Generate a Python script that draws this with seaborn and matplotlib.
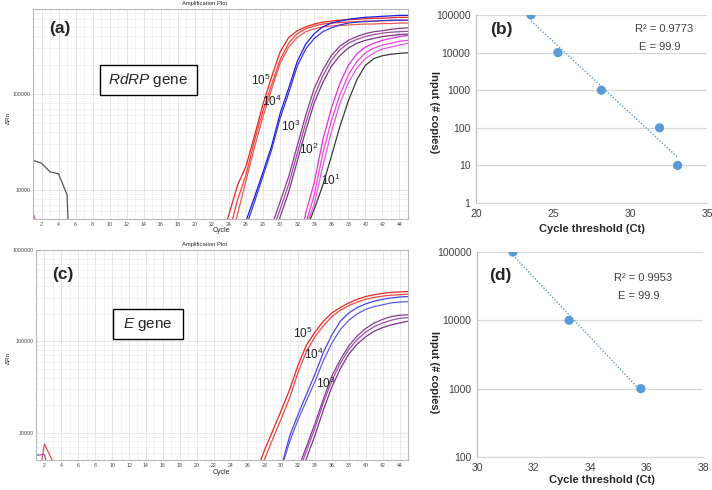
import numpy as np
import pandas as pd
import matplotlib
matplotlib.use("Agg")
import matplotlib.pyplot as plt
import seaborn as sns
from matplotlib.patches import Rectangle
from matplotlib.ticker import LogLocator, NullFormatter, NullLocator

sns.set_theme(style="white")
plt.rcParams['font.family'] = ['Liberation Sans', 'DejaVu Sans']
plt.rcParams['mathtext.fontset'] = 'custom'
plt.rcParams['mathtext.rm'] = 'Liberation Sans'
plt.rcParams['mathtext.it'] = 'Liberation Sans:italic'

# ---------------- data (log10 of ΔRn) ----------------
rdrp_cycles = list(range(23, 46))
rdrp_1e5_a = [3.45, 3.75, 4.05, 4.25, 4.57, 4.90, 5.18, 5.44, 5.59, 5.66, 5.70, 5.73, 5.75, 5.76, 5.77, 5.775, 5.78, 5.785, 5.79, 5.79, 5.795, 5.80, 5.80]
rdrp_1e5_b = [3.20, 3.55, 3.90, 4.16, 4.52, 4.83, 5.10, 5.36, 5.53, 5.63, 5.68, 5.71, 5.73, 5.74, 5.745, 5.75, 5.755, 5.76, 5.76, 5.765, 5.765, 5.77, 5.77]
rdrp_1e5_c = [3.05, 3.40, 3.75, 4.10, 4.45, 4.77, 5.05, 5.32, 5.49, 5.59, 5.65, 5.68, 5.70, 5.71, 5.715, 5.72, 5.725, 5.73, 5.73, 5.735, 5.735, 5.74, 5.74]
rdrp_1e4_a = [3.00, 3.15, 3.40, 3.68, 3.93, 4.19, 4.46, 4.80, 5.06, 5.34, 5.52, 5.63, 5.70, 5.74, 5.76, 5.78, 5.79, 5.80, 5.805, 5.81, 5.815, 5.82, 5.82]
rdrp_1e4_b = [3.00, 3.10, 3.35, 3.62, 3.88, 4.15, 4.42, 4.75, 5.01, 5.29, 5.47, 5.58, 5.65, 5.69, 5.72, 5.74, 5.75, 5.755, 5.76, 5.765, 5.77, 5.77, 5.77]
rdrp_1e3_a = [2.90, 2.95, 3.00, 3.05, 3.15, 3.35, 3.62, 3.88, 4.14, 4.46, 4.78, 5.06, 5.25, 5.40, 5.50, 5.56, 5.60, 5.63, 5.65, 5.66, 5.675, 5.685, 5.69]
rdrp_1e3_b = [2.90, 2.95, 3.00, 3.05, 3.10, 3.30, 3.55, 3.80, 4.06, 4.38, 4.70, 4.98, 5.19, 5.35, 5.46, 5.53, 5.57, 5.60, 5.62, 5.635, 5.645, 5.65, 5.655]
rdrp_1e3_c = [2.90, 2.95, 3.00, 3.05, 3.10, 3.20, 3.45, 3.72, 3.98, 4.30, 4.62, 4.91, 5.12, 5.29, 5.40, 5.48, 5.53, 5.56, 5.58, 5.60, 5.61, 5.62, 5.625]
rdrp_1e2_a = [2.90, 2.90, 2.95, 2.95, 3.00, 3.00, 3.05, 3.10, 3.15, 3.30, 3.76, 4.08, 4.52, 4.85, 5.11, 5.30, 5.42, 5.49, 5.53, 5.56, 5.58, 5.60, 5.61]
rdrp_1e2_b = [2.90, 2.90, 2.95, 2.95, 3.00, 3.00, 3.05, 3.10, 3.12, 3.20, 3.65, 3.95, 4.38, 4.72, 4.99, 5.20, 5.34, 5.43, 5.48, 5.51, 5.53, 5.55, 5.56]
rdrp_1e2_c = [2.90, 2.90, 2.95, 2.95, 3.00, 3.00, 3.05, 3.08, 3.10, 3.15, 3.62, 3.85, 4.25, 4.60, 4.90, 5.12, 5.27, 5.37, 5.43, 5.47, 5.49, 5.51, 5.53]
rdrp_1e1 = [2.90, 2.90, 2.95, 2.95, 3.00, 3.00, 3.05, 3.10, 3.15, 3.30, 3.58, 3.80, 4.05, 4.35, 4.66, 4.93, 5.15, 5.30, 5.37, 5.40, 5.415, 5.425, 5.43]
rdrp_base_gray_cycles = [1, 2, 3, 4, 5, 6]
rdrp_base_gray = [4.31, 4.28, 4.19, 4.17, 3.95, 1.50]
rdrp_base_mag_cycles = [1, 2]
rdrp_base_mag = [3.77, 3.45]

e_cycles = list(range(26, 46))
e_1e5_a = [3.30, 3.55, 3.80, 4.02, 4.24, 4.47, 4.74, 4.96, 5.10, 5.22, 5.31, 5.37, 5.42, 5.46, 5.49, 5.51, 5.525, 5.535, 5.54, 5.545]
e_1e5_b = [3.20, 3.45, 3.70, 3.93, 4.15, 4.38, 4.66, 4.89, 5.05, 5.17, 5.27, 5.34, 5.39, 5.43, 5.46, 5.48, 5.495, 5.505, 5.51, 5.516]
e_1e4_a = [3.00, 3.05, 3.10, 3.30, 3.62, 3.96, 4.20, 4.42, 4.64, 4.88, 5.07, 5.22, 5.31, 5.37, 5.41, 5.44, 5.46, 5.475, 5.485, 5.49]
e_1e4_b = [3.00, 3.05, 3.10, 3.28, 3.60, 3.90, 4.14, 4.35, 4.56, 4.79, 4.98, 5.13, 5.23, 5.30, 5.35, 5.38, 5.40, 5.42, 5.43, 5.435]
e_1e3_a = [3.00, 3.00, 3.05, 3.10, 3.15, 3.30, 3.60, 3.85, 4.10, 4.37, 4.62, 4.80, 4.95, 5.06, 5.14, 5.20, 5.24, 5.27, 5.285, 5.29]
e_1e3_b = [3.00, 3.00, 3.05, 3.10, 3.12, 3.28, 3.55, 3.80, 4.05, 4.33, 4.57, 4.76, 4.91, 5.02, 5.10, 5.16, 5.20, 5.23, 5.25, 5.26]
e_1e3_c = [3.00, 3.00, 3.05, 3.08, 3.10, 3.22, 3.48, 3.72, 3.97, 4.25, 4.50, 4.70, 4.86, 4.97, 5.05, 5.11, 5.15, 5.18, 5.20, 5.22]
e_base_red_cycles = [1, 2, 3]
e_base_red = [3.30, 3.875, 3.68]
e_base_pur_cycles = [1, 2, 3]
e_base_pur = [3.75, 3.76, 3.40]

ct_rdrp = [23.57, 25.32, 28.14, 31.92, 33.09]
copies_rdrp = [100000, 10000, 1000, 100, 10]
ct_e = [31.27, 33.26, 35.80]
copies_e = [100000, 10000, 1000]
fit_text_b = ['R² = 0.9773', 'E = 99.9']
fit_text_d = ['R² = 0.9953', 'E = 99.9']

rdrp_copy_labels = ['10$^{5}$', '10$^{4}$', '10$^{3}$', '10$^{2}$', '10$^{1}$']
e_copy_labels = ['10$^{5}$', '10$^{4}$', '10$^{3}$']
xt_b = [20, 25, 30, 35]
yt_b = [1, 10, 100, 1000, 10000, 100000]
xt_d = [30, 32, 34, 36, 38]
yt_d = [100, 1000, 10000, 100000]

# ---------------- build long tables ----------------
def long_table(cycles, curves):
    frames = []
    for name, vals in curves.items():
        frames.append(pd.DataFrame({'well': name, 'cycle': cycles,
                                    'drn': np.power(10.0, np.asarray(vals, float))}))
    return pd.concat(frames, ignore_index=True)

rdrp_df = pd.concat([
    long_table(rdrp_cycles, {'r5a': rdrp_1e5_a, 'r5b': rdrp_1e5_b, 'r5c': rdrp_1e5_c,
                             'r4a': rdrp_1e4_a, 'r4b': rdrp_1e4_b,
                             'r3a': rdrp_1e3_a, 'r3b': rdrp_1e3_b, 'r3c': rdrp_1e3_c,
                             'r2a': rdrp_1e2_a, 'r2b': rdrp_1e2_b, 'r2c': rdrp_1e2_c,
                             'r1': rdrp_1e1}),
    long_table(rdrp_base_gray_cycles, {'bg': rdrp_base_gray}),
    long_table(rdrp_base_mag_cycles, {'bm': rdrp_base_mag}),
], ignore_index=True)
rdrp_pal = {'r5a': '#E4261C', 'r5b': '#E8453B', 'r5c': '#EC5A52',
            'r4a': '#1C1CE0', 'r4b': '#3A3AD8',
            'r3a': '#8A3A8E', 'r3b': '#9C4C9E', 'r3c': '#7A3488',
            'r2a': '#E22FE0', 'r2b': '#EE44D8', 'r2c': '#E05AE6',
            'r1': '#3A3A3A', 'bg': '#555555', 'bm': '#B24FC4'}

e_df = pd.concat([
    long_table(e_cycles, {'e5a': e_1e5_a, 'e5b': e_1e5_b,
                          'e4a': e_1e4_a, 'e4b': e_1e4_b,
                          'e3a': e_1e3_a, 'e3b': e_1e3_b, 'e3c': e_1e3_c}),
    long_table(e_base_red_cycles, {'ebr': e_base_red}),
    long_table(e_base_pur_cycles, {'ebp': e_base_pur}),
], ignore_index=True)
e_pal = {'e5a': '#E4261C', 'e5b': '#EA4A42',
         'e4a': '#4646E4', 'e4b': '#5E5EDC',
         'e3a': '#8A3A9A', 'e3b': '#9A50A8', 'e3c': '#7C3290',
         'ebr': '#E45050', 'ebp': '#9060B0'}

# ---------------- figure ----------------
W, H = 712, 490
fig = plt.figure(figsize=(W / 100, H / 100), dpi=100)
fig.patch.set_facecolor('white')

def px_axes(l, t, r, b):
    return fig.add_axes([l / W, 1 - b / H, (r - l) / W, (b - t) / H])

def amp_axes(ax, df, pal, ylim, yticks):
    ax.set_yscale('log')
    sns.lineplot(data=df, x='cycle', y='drn', hue='well', palette=pal,
                 estimator=None, legend=False, lw=0.9, ax=ax, sort=False)
    ax.set_xlim(1, 45)
    ax.set_ylim(*ylim)
    ax.set_xticks(range(2, 45, 2))
    ax.set_xticks(range(1, 46), minor=True)
    ax.set_yticks(yticks)
    ax.set_yticklabels([str(int(v)) for v in yticks])
    ax.yaxis.set_minor_locator(LogLocator(base=10, subs=range(2, 10)))
    ax.yaxis.set_minor_formatter(NullFormatter())
    ax.set_axisbelow(True)
    ax.grid(which='major', color='#DCDCDC', lw=0.5)
    ax.grid(which='minor', color='#EBEBEB', lw=0.4)
    ax.tick_params(which='both', length=0, labelsize=3.8, pad=2, colors='#444444')
    for s in ax.spines.values():
        s.set_color('#B8B8B8')
        s.set_linewidth(0.8)
    ax.set_xlabel('')
    ax.set_ylabel('')

# panel (a)
ax_a = px_axes(33, 9, 408, 219)
amp_axes(ax_a, rdrp_df, rdrp_pal, (5000, 770000), [10000, 100000])
ax_a.text(0.072, 0.905, '(a)', transform=ax_a.transAxes, fontsize=12.5,
          fontweight='bold', ha='center', va='center')
ax_a.add_patch(Rectangle((0.1787, 0.5905), 0.2586, 0.1428, transform=ax_a.transAxes,
                         fc='white', ec='black', lw=1.0, zorder=5))
ax_a.text(0.308, 0.662, r'$\mathit{RdRP}$ gene', transform=ax_a.transAxes,
          fontsize=11, ha='center', va='center', zorder=6)
for lab, (fx, fy) in zip(rdrp_copy_labels, [(0.607, 0.66), (0.638, 0.56), (0.687, 0.44),
                                            (0.736, 0.33), (0.795, 0.186)]):
    ax_a.text(fx, fy, lab, transform=ax_a.transAxes, fontsize=8.5,
              ha='center', va='center', color='#222222')
fig.text(205 / W, 1 - 4 / H, 'Amplification Plot', fontsize=4.2, ha='center', va='center')
fig.text(8 / W, 1 - 118 / H, 'ΔRn', fontsize=4.5, rotation=90, ha='center', va='center')
fig.text(221 / W, 1 - 231 / H, 'Cycle', fontsize=5, ha='center', va='center')

# panel (c)
ax_c = px_axes(36, 250, 408, 460)
amp_axes(ax_c, e_df, e_pal, (5000, 1000000), [10000, 100000, 1000000])
ax_c.text(0.071, 0.884, '(c)', transform=ax_c.transAxes, fontsize=12.5,
          fontweight='bold', ha='center', va='center')
ax_c.add_patch(Rectangle((0.206, 0.575), 0.188, 0.144, transform=ax_c.transAxes,
                         fc='white', ec='black', lw=1.0, zorder=5))
ax_c.text(0.30, 0.647, r'$\mathit{E}$ gene', transform=ax_c.transAxes,
          fontsize=11, ha='center', va='center', zorder=6)
for lab, (fx, fy) in zip(e_copy_labels, [(0.716, 0.603), (0.747, 0.503), (0.779, 0.365)]):
    ax_c.text(fx, fy, lab, transform=ax_c.transAxes, fontsize=8.5,
              ha='center', va='center', color='#222222')
fig.text(205 / W, 1 - 244 / H, 'Amplification Plot', fontsize=4.2, ha='center', va='center')
fig.text(8 / W, 1 - 358 / H, 'ΔRn', fontsize=4.5, rotation=90, ha='center', va='center')
fig.text(221 / W, 1 - 472.5 / H, 'Cycle', fontsize=5, ha='center', va='center')

# standard curves
def std_axes(ax, ct, copies, xlim, xticks, yticks):
    ax.set_yscale('log')
    slope, icpt = np.polyfit(ct, np.log10(copies), 1)
    xs = np.array([min(ct), max(ct)])
    sns.lineplot(x=xs, y=10 ** np.polyval([slope, icpt], xs), ax=ax, color='#5B9BD5',
                 lw=1.0, linestyle=(0, (1, 1.3)), zorder=2)
    sns.scatterplot(x=ct, y=copies, ax=ax, color='#5B9BD5', s=44, edgecolor='none', zorder=3)
    ax.set_xlim(*xlim)
    ax.set_ylim(min(yticks), max(yticks))
    ax.set_xticks(xticks)
    ax.set_yticks(yticks)
    ax.set_yticklabels([str(v) for v in yticks])
    ax.yaxis.set_minor_locator(NullLocator())
    ax.grid(axis='y', color='#D9D9D9', lw=0.9)
    ax.grid(axis='x', visible=False)
    ax.set_axisbelow(True)
    for s in ['top', 'right']:
        ax.spines[s].set_visible(False)
    ax.spines['left'].set_color('#BFBFBF')
    ax.spines['bottom'].set_color('#D9D9D9')
    ax.spines['left'].set_linewidth(0.9)
    ax.spines['bottom'].set_linewidth(0.9)
    ax.tick_params(length=0, labelsize=7.5, colors='#404040', pad=4)
    ax.set_xlabel('')
    ax.set_ylabel('')

ax_b = px_axes(476, 15, 707, 203)
std_axes(ax_b, ct_rdrp, copies_rdrp, (20, 35), xt_b, yt_b)
ax_b.text(0.108, 0.924, '(b)', transform=ax_b.transAxes, fontsize=12.5,
          fontweight='bold', ha='center', va='center')
ax_b.text(0.816, 0.924, fit_text_b[0], transform=ax_b.transAxes, fontsize=8,
          ha='center', va='center', color='#404040')
ax_b.text(0.795, 0.828, fit_text_b[1], transform=ax_b.transAxes, fontsize=8,
          ha='center', va='center', color='#404040')
fig.text(591.5 / W, 1 - 229 / H, 'Cycle threshold (Ct)', fontsize=8, fontweight='bold',
         ha='center', va='center', color='#262626')
fig.text(434 / W, 1 - 112 / H, 'Input (# copies)', fontsize=8, fontweight='bold',
         rotation=270, ha='center', va='center', color='#262626')

ax_d = px_axes(477, 252, 703, 457)
std_axes(ax_d, ct_e, copies_e, (30, 38), xt_d, yt_d)
ax_d.text(0.1035, 0.883, '(d)', transform=ax_d.transAxes, fontsize=12.5,
          fontweight='bold', ha='center', va='center')
ax_d.text(0.735, 0.875, fit_text_d[0], transform=ax_d.transAxes, fontsize=8,
          ha='center', va='center', color='#404040')
ax_d.text(0.717, 0.787, fit_text_d[1], transform=ax_d.transAxes, fontsize=8,
          ha='center', va='center', color='#404040')
fig.text(602 / W, 1 - 480 / H, 'Cycle threshold (Ct)', fontsize=8, fontweight='bold',
         ha='center', va='center', color='#262626')
fig.text(434 / W, 1 - 372.5 / H, 'Input (# copies)', fontsize=8, fontweight='bold',
         rotation=270, ha='center', va='center', color='#262626')

fig.savefig('out.png', dpi=100, facecolor='white')
